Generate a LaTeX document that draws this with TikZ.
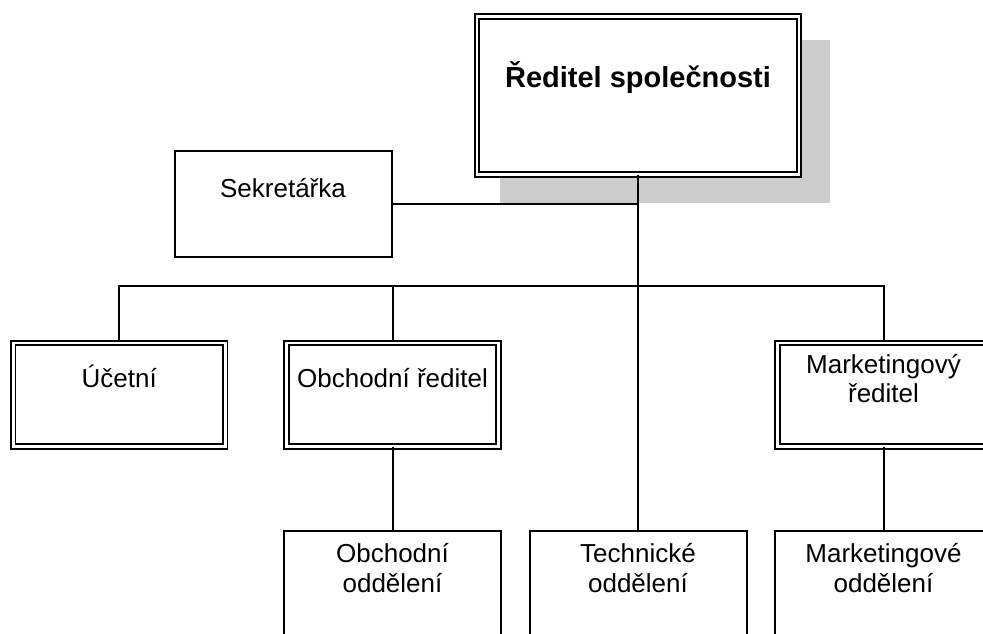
\documentclass[tikz,border=0pt]{standalone}
\usepackage{fontspec}
\setmainfont{Liberation Sans}
\begin{document}
\begin{tikzpicture}[x=1pt,y=-1pt,
  conn/.style={line width=2pt},
  dbox/.style={draw, rectangle, line width=1.9pt, double, double distance=2.6pt,
    inner sep=0pt, minimum width=212pt, minimum height=103.5pt},
  sbox/.style={draw, rectangle, line width=2pt, fill=white,
    inner sep=0pt, minimum width=217pt, minimum height=106pt},
  lowbox/.style={sbox, minimum height=110pt},
  txt/.style={font=\fontsize{26}{29.5}\selectfont, align=center, anchor=base, inner sep=0pt},
  boldtxt/.style={txt, font=\fontsize{29}{34}\selectfont\bfseries},
  shadowcol/.style={fill=black!20, draw=none}]
  \clip (0,0) rectangle (983,633);
  \fill[white] (0,0) rectangle (983,633);

  % head of the company with its drop shadow
  \fill[shadowcol] (500,40) rectangle (830,203);
  \node[dbox, fill=white, minimum width=322pt, minimum height=158pt] (head) at (638,95.5) {};
  \node[boldtxt] (headtxt) at (638,87) {Ředitel společnosti};

  % secretary
  \node[sbox] (sekr) at (283,204) {};
  \node[txt] (sekrtxt) at (283,197) {Sekretářka};

  % second level
  \node[dbox] (ucet) at (119.25,394.75) {};
  \node[txt] (ucettxt) at (119.25,387) {Účetní};
  \node[dbox] (obchr) at (392.5,394.75) {};
  \node[txt] (obchrtxt) at (392.5,387) {Obchodní ředitel};
  \node[dbox] (mktr) at (883.5,394.75) {};
  \node[txt] (mktrtxt1) at (883.5,373) {Marketingový};
  \node[txt] (mktrtxt2) at (883.5,402) {ředitel};

  % departments
  \node[lowbox] (obchodd) at (392.5,586) {};
  \node[txt] (obchodd1) at (392.5,562) {Obchodní};
  \node[txt] (obchodd2) at (392.5,592) {oddělení};
  \node[lowbox] (tech) at (638,586) {};
  \node[txt] (tech1) at (638,562) {Technické};
  \node[txt] (tech2) at (638,592) {oddělení};
  \node[lowbox] (mktodd) at (883.5,586) {};
  \node[txt] (mktodd1) at (883.5,562) {Marketingové};
  \node[txt] (mktodd2) at (883.5,592) {oddělení};

  % connectors
  \coordinate (bus) at (0,286);
  \draw[conn] (sekr.east) -- (sekr.east -| head.south);
  \draw[conn] (head.south) -- (tech.north);
  \draw[conn] (ucet.north) -- (ucet.north |- bus) -- (mktr.north |- bus) -- (mktr.north);
  \draw[conn] (obchr.north) -- (obchr.north |- bus);
  \draw[conn] (obchr.south) -- (obchodd.north);
  \draw[conn] (mktr.south) -- (mktodd.north);
\end{tikzpicture}
\end{document}
